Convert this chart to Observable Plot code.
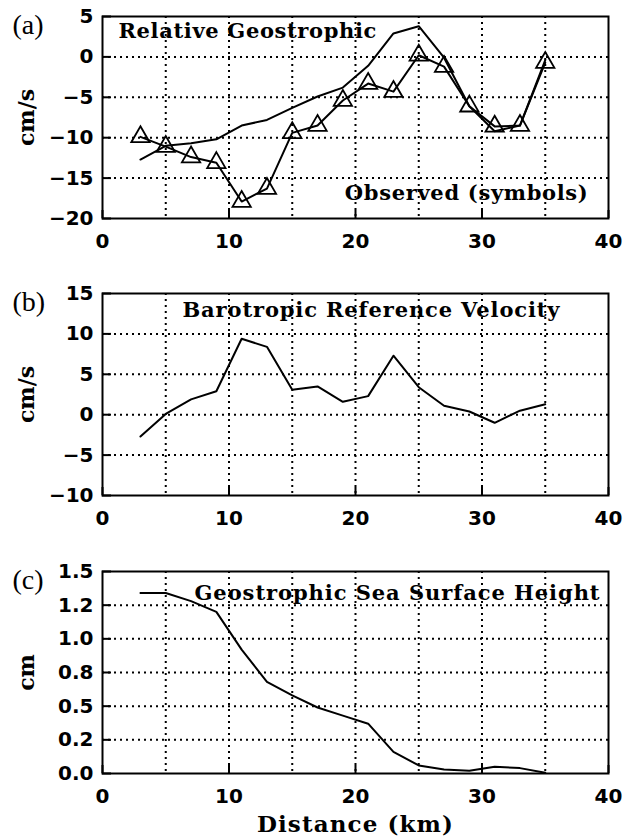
<!DOCTYPE html>
<html><head><meta charset="utf-8">
<script src="https://cdn.jsdelivr.net/npm/d3@7"></script>
<script src="https://cdn.jsdelivr.net/npm/@observablehq/plot@0.6"></script>
<style>
html,body{margin:0;padding:0;background:#fff;}
#chart{position:relative;width:623px;height:839px;background:#fff;}
#chart svg{position:absolute;left:0;overflow:visible;}
</style></head><body><div id="chart"></div>
<script>
// ---- data ----
const distance = [3,5,7,9,11,13,15,17,19,21,23,25,27,29,31,33,35];
const relativeGeostrophic = [-12.7,-11.0,-10.7,-10.2,-8.5,-7.8,-6.3,-4.9,-3.8,-1.1,2.9,3.8,-0.1,-6.1,-9.2,-8.5,-0.4];
const observed = [-9.9,-11.1,-12.4,-13.1,-17.9,-16.3,-9.4,-8.5,-5.4,-3.3,-4.3,0.2,-1.2,-6.1,-8.6,-8.5,-0.7];
const barotropic = [-2.7,0.1,1.9,2.9,9.4,8.4,3.1,3.5,1.6,2.3,7.3,3.4,1.1,0.4,-1.0,0.5,1.3];
const seaSurfaceHeight = [1.34,1.34,1.28,1.20,0.92,0.68,0.58,0.49,0.43,0.37,0.16,0.06,0.03,0.02,0.05,0.04,0.005];

const xTicks = [0,10,20,30,40];
const xGrid = [5,10,15,20,25,30,35];
const yTicksA = [-20,-15,-10,-5,0,5];
const yTicksB = [-10,-5,0,5,10,15];
const yTicksC = [0,0.25,0.5,0.75,1,1.25,1.5];
const yLabelsC = ["0.0","0.2","0.5","0.8","1.0","1.2","1.5"];
const panelLabels = ["(a)","(b)","(c)"];
const yLabels = ["cm/s","cm/s","cm"];
const xLabel = "Distance (km)";
const titleA = "Relative Geostrophic";
const noteA = "Observed (symbols)";
const titleB = "Barotropic Reference Velocity";
const titleC = "Geostrophic Sea Surface Height";

// ---- layout ----
const W = 623, ML = 102, MR = 15, MT = 16, FH = 202;
const serif = "DejaVu Serif", sans = "DejaVu Sans";
const minusFmt = d => d < 0 ? "\u2212" + (-d) : String(d);

const ptsA = distance.map((x,i) => ({x, rel: relativeGeostrophic[i], obs: observed[i]}));
const ptsB = distance.map((x,i) => ({x, v: barotropic[i]}));
const ptsC = distance.map((x,i) => ({x, h: seaSurfaceHeight[i]}));

const gridStyle = {stroke: "#000", strokeOpacity: 1, strokeWidth: 2, strokeDasharray: "2,4"};

function titleMark(text, opts) {
  return Plot.text([text], {text: d => d, fontFamily: serif, fontWeight: "bold", fontSize: 21,
    fill: "#000", lineAnchor: "bottom", ...opts});
}

function panel({top, height, yDomain, yTicks, yFormat, marks, label, ylabel, extra = []}) {
  const svg = Plot.plot({
    width: W, height, marginLeft: ML, marginRight: MR, marginTop: MT, marginBottom: height - MT - FH,
    x: {domain: [0, 40]},
    y: {domain: yDomain},
    style: {fontFamily: sans, background: "white", color: "#000"},
    marks: [
      Plot.gridX(xGrid, gridStyle),
      Plot.gridY(yTicks.slice(1, -1), gridStyle),
      ...marks,
      Plot.frame({stroke: "#000", strokeWidth: 2}),
      Plot.axisY(yTicks, {tickSize: -9, strokeWidth: 2, tickFormat: () => "", label: null}),
      Plot.axisY(yTicks, {tickSize: 0, tickPadding: 9, tickFormat: yFormat, label: null,
        fontSize: 20, fontWeight: "bold", fontFamily: sans}),
      Plot.axisX(xTicks, {tickSize: -8, strokeWidth: 2, tickFormat: () => "", label: null}),
      Plot.axisX(xTicks, {tickSize: 0, tickPadding: 15, label: null,
        fontSize: 20, fontWeight: "bold", fontFamily: sans}),
      Plot.text([label], {text: d => d, frameAnchor: "top-left", dx: -90, dy: 9, textAnchor: "start",
        lineAnchor: "middle", fontFamily: "Liberation Serif", fontSize: 28, fill: "#000"}),
      Plot.text([ylabel], {text: d => d, frameAnchor: "left", dx: -76, rotate: -90, textAnchor: "middle",
        lineAnchor: "middle", fontFamily: serif, fontWeight: "bold", fontSize: 22, fill: "#000"}),
      ...extra
    ]
  });
  svg.style.top = top + "px";
  document.getElementById("chart").appendChild(svg);
  return svg;
}

const lineStyle = {stroke: "#000", strokeWidth: 2};

panel({
  top: 0, height: 277, yDomain: [-20, 5], yTicks: yTicksA, yFormat: minusFmt,
  label: panelLabels[0], ylabel: yLabels[0],
  marks: [
    Plot.line(ptsA, {x: "x", y: "rel", ...lineStyle}),
    Plot.line(ptsA, {x: "x", y: "obs", ...lineStyle}),
    Plot.dot(ptsA, {x: "x", y: "obs", symbol: "triangle", r: 6.8, fill: "none", stroke: "#000", strokeWidth: 1.8})
  ],
  extra: [
    titleMark(titleA, {frameAnchor: "top-left", dx: 16, dy: 21, textAnchor: "start"}),
    titleMark(noteA, {frameAnchor: "bottom-right", dx: -20, dy: -19, textAnchor: "end"})
  ]
});

panel({
  top: 277, height: 278, yDomain: [-10, 15], yTicks: yTicksB, yFormat: minusFmt,
  label: panelLabels[1], ylabel: yLabels[1],
  marks: [Plot.line(ptsB, {x: "x", y: "v", ...lineStyle})],
  extra: [titleMark(titleB, {frameAnchor: "top-left", dx: 80, dy: 23, textAnchor: "start"})]
});

panel({
  top: 555, height: 284, yDomain: [0, 1.5], yTicks: yTicksC,
  yFormat: d => yLabelsC[yTicksC.indexOf(d)],
  label: panelLabels[2], ylabel: yLabels[2],
  marks: [Plot.line(ptsC, {x: "x", y: "h", ...lineStyle})],
  extra: [
    titleMark(titleC, {frameAnchor: "top-left", dx: 92, dy: 28, textAnchor: "start"}),
    Plot.text([xLabel], {text: d => d, frameAnchor: "bottom", dy: 58, lineAnchor: "bottom",
      fontFamily: serif, fontWeight: "bold", fontSize: 23, fill: "#000"})
  ]
});

// stretch the slab-serif labels to the reference widths via letter spacing
const targetWidths = new Map([[titleA, 258], [noteA, 243], [titleB, 377], [titleC, 405], [xLabel, 196]]);
document.querySelectorAll("#chart text").forEach(t => {
  const s = t.textContent;
  if (!targetWidths.has(s)) return;
  const natural = t.getComputedTextLength();
  const extra = (targetWidths.get(s) - natural) / Math.max(1, s.length - 1);
  if (extra > 0) t.style.letterSpacing = extra.toFixed(2) + "px";
});
</script></body></html>
